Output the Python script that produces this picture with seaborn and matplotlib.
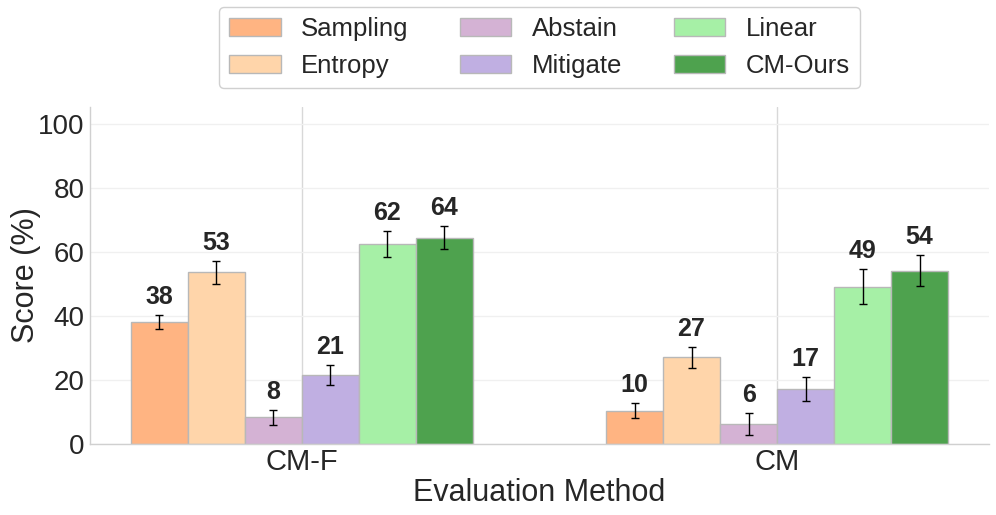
import matplotlib
matplotlib.use("Agg")
import matplotlib.pyplot as plt
import seaborn as sns
import pandas as pd

# ---- data ----
eval_methods = ["CM-F", "CM"]
methods = ["Sampling", "Entropy", "Abstain", "Mitigate", "Linear", "CM-Ours"]
scores_cmf = [38.0, 53.6, 8.3, 21.6, 62.4, 64.5]
scores_cm = [10.4, 27.1, 6.2, 17.1, 49.1, 54.1]
err_cmf = [2.2, 3.6, 2.4, 3.2, 4.1, 3.5]
err_cm = [2.3, 3.2, 3.4, 3.8, 5.5, 4.8]
colors = ["#FFB482", "#FFD5AA", "#D4B2D4", "#C0AFE2", "#A6F0A6", "#4EA24E"]

rows = []
for m, s1, s2, e1, e2 in zip(methods, scores_cmf, scores_cm, err_cmf, err_cm):
    rows.append({"Evaluation Method": eval_methods[0], "Method": m, "Score": s1, "Err": e1})
    rows.append({"Evaluation Method": eval_methods[1], "Method": m, "Score": s2, "Err": e2})
df = pd.DataFrame(rows)

sns.set_theme(style="whitegrid")
plt.rcParams["font.family"] = ["Liberation Sans", "DejaVu Sans"]
plt.rcParams["text.color"] = "#262626"

fig = plt.figure(figsize=(9.96, 5.15), dpi=100)
ax = fig.add_axes([90 / 996, 1 - 444 / 515, (989 - 90) / 996, (444 - 107) / 515])

sns.barplot(data=df, x="Evaluation Method", y="Score", hue="Method",
            order=eval_methods, hue_order=methods, palette=colors,
            width=0.72, saturation=1, errorbar=None, ax=ax,
            edgecolor="#b8b8b8", linewidth=1.0)

bar_conts = list(ax.containers)
for hi, cont in enumerate(bar_conts):
    for ci, bar in enumerate(cont.patches):
        xc = bar.get_x() + bar.get_width() / 2
        h = bar.get_height()
        e = (err_cmf if ci == 0 else err_cm)[hi]
        ax.errorbar(xc, h, yerr=e, fmt="none", ecolor="black", elinewidth=1.0,
                    capsize=3, capthick=1.0, zorder=5)
        ax.text(xc, h + e + 1.9, f"{int(h)}", ha="center", va="bottom",
                fontsize=18, fontweight="bold", color="#262626")

handles, labels = ax.get_legend_handles_labels()
handles, labels = handles[:6], labels[:6]
if ax.get_legend() is not None:
    ax.get_legend().remove()

ax.set_ylim(0, 105.3)
ax.set_xlim(-0.446, 1.446)
ax.set_yticks([0, 20, 40, 60, 80, 100])
ax.tick_params(axis="y", labelsize=20, colors="#262626", length=0, pad=4)
ax.tick_params(axis="x", labelsize=21, colors="#262626", length=0, pad=3)
ax.set_xlabel("Evaluation Method", fontsize=22, color="#262626")
ax.set_ylabel("Score (%)", fontsize=22, color="#262626")
ax.xaxis.set_label_coords(0.5, -0.101)
ax.yaxis.set_label_coords(-0.055, 0.5)

ax.yaxis.grid(True, color="#f0f0f0", linewidth=1.0)
ax.xaxis.grid(True, color="#d8d8d8", linewidth=1.0)
ax.set_axisbelow(True)
for s in ["top", "right"]:
    ax.spines[s].set_visible(False)
for s in ["left", "bottom"]:
    ax.spines[s].set_color("#d0d0d0")
    ax.spines[s].set_linewidth(1.0)

leg = fig.legend(handles, labels, loc="upper center", bbox_to_anchor=(539.5 / 996, 1 - 7 / 515),
                 ncol=3, fontsize=18.5, frameon=True, framealpha=1, edgecolor="#d0d0d0",
                 fancybox=True, borderaxespad=0)
for t in leg.get_texts():
    t.set_color("#262626")

fig.savefig("out.png", dpi=100)
